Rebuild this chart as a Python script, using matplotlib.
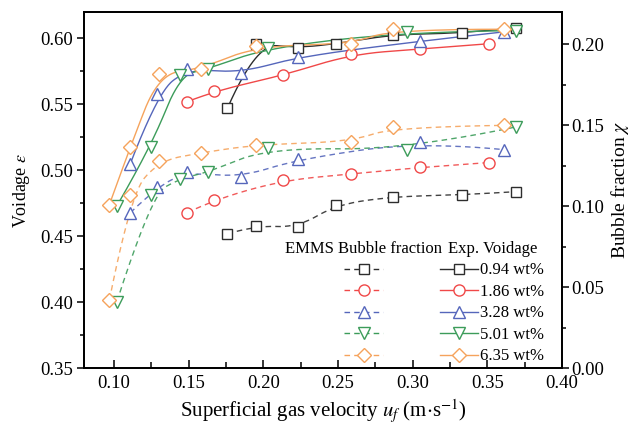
import numpy as np
import matplotlib
matplotlib.use("Agg")
import matplotlib.pyplot as plt
from matplotlib.lines import Line2D
from matplotlib.ticker import MultipleLocator, FormatStrFormatter

plt.rcParams['font.family'] = ['Liberation Serif', 'DejaVu Serif']
plt.rcParams['mathtext.fontset'] = 'stix'

# superficial gas velocity (m/s), experimental voidage and EMMS bubble fraction
u_094 = [0.176, 0.195, 0.223, 0.249, 0.287, 0.333, 0.369]
eps_094 = [0.547, 0.596, 0.593, 0.596, 0.603, 0.604, 0.608]
chi_094 = [0.083, 0.088, 0.087, 0.101, 0.106, 0.107, 0.109]

u_186 = [0.149, 0.167, 0.213, 0.259, 0.305, 0.351]
eps_186 = [0.552, 0.560, 0.572, 0.588, 0.592, 0.596]
chi_186 = [0.096, 0.104, 0.116, 0.120, 0.124, 0.127]

u_328 = [0.111, 0.129, 0.149, 0.185, 0.223, 0.305, 0.361]
eps_328 = [0.505, 0.558, 0.577, 0.574, 0.586, 0.598, 0.605]
chi_328 = [0.096, 0.112, 0.121, 0.118, 0.129, 0.140, 0.135]

u_501 = [0.102, 0.125, 0.144, 0.163, 0.203, 0.296, 0.369]
eps_501 = [0.473, 0.518, 0.572, 0.577, 0.593, 0.605, 0.606]
chi_501 = [0.041, 0.107, 0.117, 0.121, 0.136, 0.135, 0.149]

u_635 = [0.097, 0.111, 0.130, 0.158, 0.195, 0.259, 0.287, 0.361]
eps_635 = [0.474, 0.518, 0.573, 0.577, 0.594, 0.596, 0.607, 0.607]
chi_635 = [0.042, 0.107, 0.128, 0.133, 0.138, 0.140, 0.149, 0.150]

labels = ['0.94 wt%', '1.86 wt%', '3.28 wt%', '5.01 wt%', '6.35 wt%']
colors = ['#2d2d2d', '#f04848', '#5566bb', '#3c9c5a', '#f5a35c']
markers = ['s', 'o', '^', 'v', 'D']
sizes = [7, 8, 8.5, 8.5, 7.5]

series = [
    (u_094, eps_094, chi_094),
    (u_186, eps_186, chi_186),
    (u_328, eps_328, chi_328),
    (u_501, eps_501, chi_501),
    (u_635, eps_635, chi_635),
]


def bspline(xs, ys, k=2, num=200):
    """Clamped B-spline using the data points as control points."""
    ctrl = np.column_stack([xs, ys])
    m = len(ctrl)
    k = min(k, m - 1)
    t = np.concatenate([np.zeros(k), np.linspace(0, 1, m - k + 1), np.ones(k)])
    u = np.linspace(0, 1, num)
    B = np.zeros((num, len(t) - 1))
    for i in range(len(t) - 1):
        B[:, i] = (t[i] <= u) & (u < t[i + 1])
    B[u >= 1, m - 1] = 1.0
    for d in range(1, k + 1):
        Bn = np.zeros((num, len(t) - 1 - d))
        for i in range(len(t) - 1 - d):
            den1 = t[i + d] - t[i]
            den2 = t[i + d + 1] - t[i + 1]
            left = (u - t[i]) / den1 * B[:, i] if den1 > 0 else 0.0
            right = (t[i + d + 1] - u) / den2 * B[:, i + 1] if den2 > 0 else 0.0
            Bn[:, i] = left + right
        B = Bn
    curve = B @ ctrl
    return curve[:, 0], curve[:, 1]


fig = plt.figure(figsize=(6.34, 4.32), dpi=100)
ax = fig.add_axes([0.1325, 0.148, 0.7539, 0.824])
ax2 = ax.twinx()

dash = (0, (4, 3))
for (u, eps, chi), c, mk, ms in zip(series, colors, markers, sizes):
    sx, sy = bspline(u, eps)
    ax.plot(sx, sy, color=c, lw=1.0, zorder=2)
    ax.plot(u, eps, ls='none', marker=mk, ms=ms, mfc='white', mec=c,
            mew=1.0, zorder=3)
    dx, dy = bspline(u, chi)
    ax2.plot(dx, dy, color=c, lw=1.0, ls=dash, alpha=0.9, zorder=2)
    ax2.plot(u, chi, ls='none', marker=mk, ms=ms, mfc='white', mec=c,
             mew=1.0, zorder=3)

ax.set_xlim(0.08, 0.40)
ax.set_ylim(0.35, 0.62)
ax2.set_ylim(0.0, 0.22)

ax.xaxis.set_major_locator(MultipleLocator(0.05))
ax.xaxis.set_minor_locator(MultipleLocator(0.025))
ax.xaxis.set_major_formatter(FormatStrFormatter('%.2f'))
ax.yaxis.set_major_locator(MultipleLocator(0.05))
ax.yaxis.set_minor_locator(MultipleLocator(0.025))
ax.yaxis.set_major_formatter(FormatStrFormatter('%.2f'))
ax2.yaxis.set_major_locator(MultipleLocator(0.05))
ax2.yaxis.set_minor_locator(MultipleLocator(0.025))
ax2.yaxis.set_major_formatter(FormatStrFormatter('%.2f'))

ax.tick_params(axis='x', which='both', direction='in', top=False, labelsize=13.5, pad=5)
ax.tick_params(axis='x', which='major', length=6, width=1.1)
ax.tick_params(axis='x', which='minor', length=4, width=1.1)
ax.tick_params(axis='y', which='both', direction='out', labelsize=13.5, pad=3)
ax.tick_params(axis='y', which='major', length=5, width=1.1)
ax.tick_params(axis='y', which='minor', length=3, width=1.1)
ax2.tick_params(axis='y', which='both', direction='out', labelsize=13.5, pad=2)
ax2.tick_params(axis='y', which='major', length=5, width=1.1)
ax2.tick_params(axis='y', which='minor', length=3, width=1.1)

for a in (ax, ax2):
    for sp in a.spines.values():
        sp.set_linewidth(1.3)

ax.set_xlabel(r'Superficial gas velocity $u_f$ (m$\cdot$s$^{-1}$)', fontsize=15, labelpad=4)
ax.set_ylabel(r'Voidage $\varepsilon$', fontsize=13, labelpad=6)
ax2.set_ylabel(r'Bubble fraction $\chi$', fontsize=14, labelpad=3)

# two legend columns: EMMS dashed (no text) and experimental solid
emms_handles = [Line2D([], [], color=c, lw=1.0, ls=dash, marker=mk, ms=ms,
                       mfc='white', mec=c, mew=1.0)
                for c, mk, ms in zip(colors, markers, sizes)]
exp_handles = [Line2D([], [], color=c, lw=1.0, marker=mk, ms=ms,
                      mfc='white', mec=c, mew=1.0)
               for c, mk, ms in zip(colors, markers, sizes)]

leg1 = ax.legend(emms_handles, [''] * 5, title='EMMS Bubble fraction',
                 loc='upper center', bbox_to_anchor=(0.585, 0.357),
                 frameon=False, fontsize=12, title_fontsize=12,
                 handlelength=2.3, handletextpad=0, labelspacing=0.33,
                 borderpad=0, borderaxespad=0)
ax.add_artist(leg1)
ax.legend(exp_handles, labels, title='Exp. Voidage',
          loc='upper center', bbox_to_anchor=(0.854, 0.357),
          frameon=False, fontsize=12, title_fontsize=12,
          handlelength=2.3, handletextpad=0.1, labelspacing=0.33,
          borderpad=0, borderaxespad=0)

fig.savefig('out.png', dpi=100)
